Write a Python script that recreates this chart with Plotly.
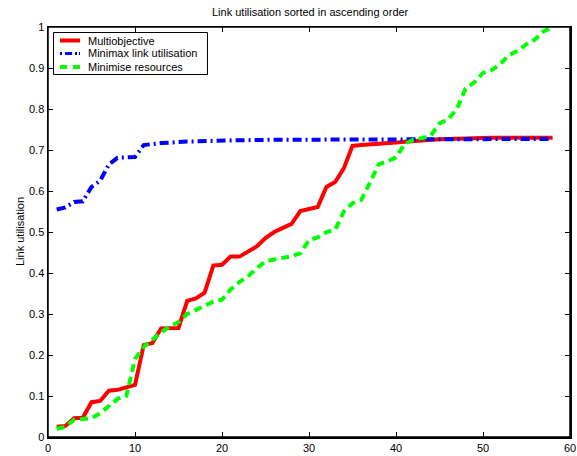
import plotly.graph_objects as go

x_vals = list(range(1, 59))

multiobjective = [0.025, 0.027, 0.046, 0.047, 0.085, 0.088, 0.113, 0.115, 0.121, 0.127,
                  0.224, 0.229, 0.265, 0.266, 0.266, 0.332, 0.338, 0.352, 0.418, 0.420,
                  0.440, 0.440, 0.452, 0.465, 0.485, 0.500, 0.510, 0.520, 0.551, 0.555,
                  0.561, 0.610, 0.622, 0.655, 0.710, 0.712, 0.713, 0.714, 0.716, 0.718,
                  0.720, 0.722, 0.724, 0.725, 0.726, 0.727, 0.728, 0.729, 0.730, 0.730,
                  0.730, 0.730, 0.730, 0.730, 0.730, 0.730, 0.730, 0.730]

minimax = [0.555, 0.560, 0.573, 0.575, 0.610, 0.625, 0.665, 0.681, 0.682, 0.683,
           0.712, 0.715, 0.717, 0.718, 0.720, 0.721, 0.721, 0.722, 0.722, 0.723,
           0.723, 0.724, 0.724, 0.725, 0.725, 0.725, 0.725, 0.725, 0.725, 0.725,
           0.725, 0.726, 0.726, 0.726, 0.726, 0.726, 0.726, 0.726, 0.726, 0.726,
           0.726, 0.726, 0.726, 0.726, 0.726, 0.727, 0.727, 0.727, 0.727, 0.727,
           0.727, 0.727, 0.727, 0.727, 0.727, 0.727, 0.727, 0.727]

min_resources = [0.020, 0.025, 0.042, 0.044, 0.046, 0.058, 0.074, 0.093, 0.100, 0.190,
                 0.220, 0.238, 0.255, 0.270, 0.280, 0.300, 0.310, 0.318, 0.330, 0.335,
                 0.360, 0.378, 0.392, 0.412, 0.428, 0.433, 0.436, 0.441, 0.448, 0.480,
                 0.487, 0.500, 0.505, 0.550, 0.570, 0.578, 0.620, 0.665, 0.672, 0.682,
                 0.715, 0.725, 0.729, 0.735, 0.765, 0.775, 0.800, 0.850, 0.865, 0.888,
                 0.895, 0.910, 0.932, 0.942, 0.958, 0.970, 0.990, 1.000]

series_names = ["Multiobjective", "Minimax link utilisation", "Minimise resources"]
series_colors = ["#ff0000", "#0000ff", "#00ff00"]
series_dashes = ["solid", "9px,4px,2px,4px", "8px,5px"]

x_ticks = [0, 10, 20, 30, 40, 50, 60]
y_ticks = [0, 0.1, 0.2, 0.3, 0.4, 0.5, 0.6, 0.7, 0.8, 0.9, 1]
y_tick_labels = ["0", "0.1", "0.2", "0.3", "0.4", "0.5", "0.6", "0.7", "0.8", "0.9", "1"]

W, H = 577, 456
L, R, T, B = 48, 570, 27, 437

def px(xp):
    return (xp - L) / (R - L)

def py(yp):
    return (B - yp) / (B - T)

fig = go.Figure()
for name, vals, col, dash in zip(series_names, [multiobjective, minimax, min_resources],
                                 series_colors, series_dashes):
    fig.add_trace(go.Scatter(x=x_vals, y=vals, mode="lines", name=name,
                             line=dict(color=col, width=4, dash=dash),
                             showlegend=False, hoverinfo="x+y"))
fig.add_trace(go.Scatter(x=[None], y=[None], xaxis="x2", yaxis="y2", mode="lines",
                         showlegend=False, hoverinfo="skip"))

font_family = "Liberation Sans, Arial, Helvetica, sans-serif"

shapes = []
annotations = []
# plot frame
shapes.append(dict(type="rect", xref="paper", yref="paper", x0=0, x1=1, y0=0, y1=1,
                   line=dict(color="black", width=1.5), layer="above"))
# legend box
shapes.append(dict(type="rect", xref="paper", yref="paper",
                   x0=px(53.5), x1=px(207.5), y0=py(74.5), y1=py(32.5),
                   line=dict(color="black", width=1), fillcolor="white", layer="above"))
row_y = [40.5, 53.5, 67]
for i, (name, col, dash) in enumerate(zip(series_names, series_colors, series_dashes)):
    sample_dash = "solid" if dash == "solid" else ("2px,3px,7px,3px,2px" if i == 1 else "7px,6px")
    shapes.append(dict(type="line", xref="paper", yref="paper",
                       x0=px(60), x1=px(80), y0=py(row_y[i]), y1=py(row_y[i]),
                       line=dict(color=col, width=4 if i != 1 else 3, dash=sample_dash), layer="above"))
    annotations.append(dict(text=name, xref="paper", yref="paper", x=px(86), y=py(row_y[i]),
                            xanchor="left", yanchor="middle", showarrow=False,
                            font=dict(size=11, family=font_family, color="black")))
annotations.append(dict(text="Link utilisation sorted in ascending order", xref="paper", yref="paper",
                        x=px(310), y=py(12.5), xanchor="center", yanchor="middle", showarrow=False,
                        font=dict(size=11, family=font_family, color="black")))
annotations.append(dict(text="Link utilisation", xref="paper", yref="paper",
                        x=px(20), y=py(232), xanchor="center", yanchor="middle", showarrow=False,
                        textangle=-90, font=dict(size=11, family=font_family, color="black")))

axis_common = dict(ticks="inside", ticklen=5, tickcolor="black", tickwidth=1, showline=True,
                   linecolor="black", linewidth=1.5, showgrid=False, zeroline=False, automargin=False,
                   tickfont=dict(size=11, family=font_family, color="black"))

fig.update_layout(
    width=W, height=H,
    margin=dict(l=L, r=W - R, t=T, b=H - B, autoexpand=False),
    paper_bgcolor="white", plot_bgcolor="white",
    font=dict(family=font_family, size=11, color="black"),
    showlegend=False,
    shapes=shapes, annotations=annotations,
    xaxis=dict(range=[0, 60], tickvals=x_ticks, **axis_common),
    yaxis=dict(range=[0, 1], tickvals=y_ticks, ticktext=y_tick_labels, **axis_common),
    xaxis2=dict(range=[0, 60], tickvals=x_ticks, overlaying="x", side="top", anchor="y2",
                showticklabels=False, **axis_common),
    yaxis2=dict(range=[0, 1], tickvals=y_ticks, overlaying="y", side="right", anchor="x2",
                showticklabels=False, **axis_common),
)

fig.write_html("out.html", config={"displayModeBar": False, "staticPlot": True},
               post_script="document.body.style.margin='0';document.body.style.overflow='hidden';")
